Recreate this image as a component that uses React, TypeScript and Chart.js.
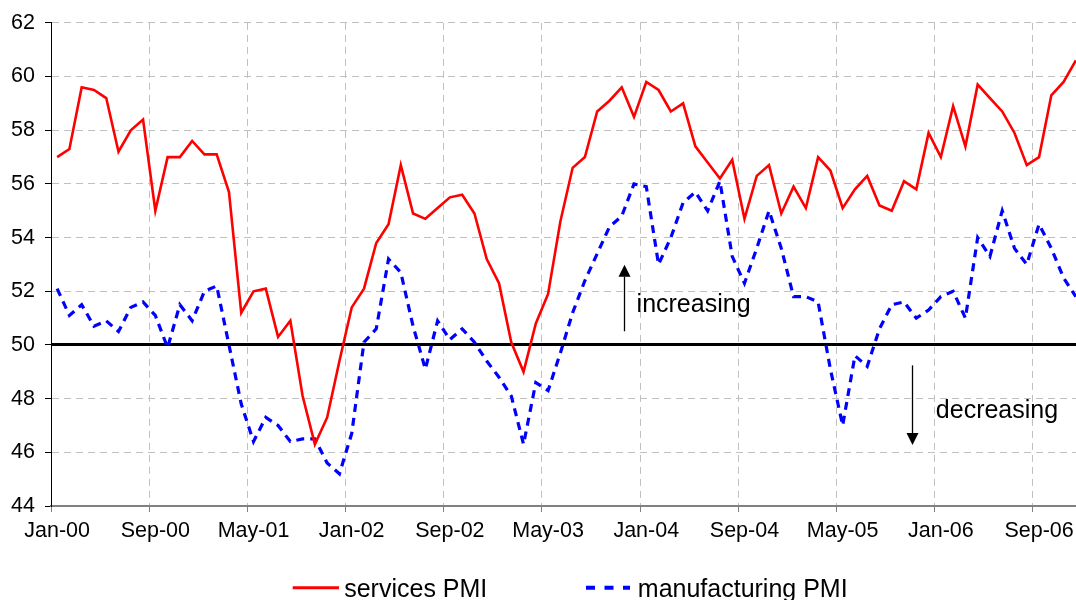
import React, { useEffect, useRef } from 'react';
import { Chart, registerables } from 'chart.js';

Chart.register(...registerables);

const MONTHS = ['Jan', 'Feb', 'Mar', 'Apr', 'May', 'Jun', 'Jul', 'Aug', 'Sep', 'Oct', 'Nov', 'Dec'];
const YEARS = ['00', '01', '02', '03', '04', '05', '06'];
const CATEGORIES = YEARS.flatMap((y) => MONTHS.map((m) => `${m}-${y}`));

const TICK_LABELS = ['Jan-00', 'Sep-00', 'May-01', 'Jan-02', 'Sep-02', 'May-03', 'Jan-04', 'Sep-04', 'May-05', 'Jan-06', 'Sep-06'];
const TICK_EVERY = 8;

const SERVICES_PMI = [
  57.0, 57.3, 59.6, 59.5, 59.2, 57.2, 58.0, 58.4, 55.0, 57.0, 57.0, 57.6,
  57.1, 57.1, 55.7, 51.2, 52.0, 52.1, 50.3, 50.9, 48.1, 46.3, 47.3, 49.4,
  51.4, 52.1, 53.8, 54.5, 56.7, 54.9, 54.7, 55.1, 55.5, 55.6, 54.9, 53.2,
  52.3, 50.1, 49.0, 50.8, 51.9, 54.6, 56.6, 57.0, 58.7, 59.1, 59.6, 58.5,
  59.8, 59.5, 58.7, 59.0, 57.4, 56.8, 56.2, 56.9, 54.7, 56.3, 56.7, 54.9,
  55.9, 55.1, 57.0, 56.5, 55.1, 55.8, 56.3, 55.2, 55.0, 56.1, 55.8, 57.9,
  57.0, 58.9, 57.4, 59.7, 59.2, 58.7, 57.9, 56.7, 57.0, 59.3, 59.8, 60.6,
];

const MANUFACTURING_PMI = [
  52.1, 51.1, 51.5, 50.7, 50.9, 50.5, 51.4, 51.6, 51.1, 49.9, 51.5, 50.9,
  52.0, 52.2, 50.0, 47.8, 46.4, 47.3, 47.0, 46.4, 46.5, 46.5, 45.6, 45.2,
  46.7, 50.1, 50.6, 53.2, 52.7, 50.7, 49.1, 50.9, 50.2, 50.6, 50.1, 49.4,
  48.8, 48.1, 46.3, 48.6, 48.3, 49.7, 51.2, 52.4, 53.4, 54.4, 54.8, 56.0,
  55.9, 53.0, 54.0, 55.3, 55.7, 55.0, 56.1, 53.3, 52.3, 53.6, 55.0, 53.6,
  51.8, 51.8, 51.6, 49.1, 47.0, 49.6, 49.2, 50.6, 51.5, 51.6, 51.0, 51.3,
  51.8, 52.0, 51.0, 54.0, 53.3, 55.0, 53.6, 53.0, 54.5, 53.6, 52.5, 51.8,
];

const Y_MIN = 44;
const Y_MAX = 62;
const Y_STEP = 2;
const NEUTRAL_LEVEL = 50;

// annotation text + arrows, in data coordinates (category index, PMI value)
const ANNOTATIONS = [
  { text: 'increasing', textX: 47.21, textY: 51.23, arrowX: 46.22, from: 50.51, to: 52.99 },
  { text: 'decreasing', textX: 71.59, textY: 47.28, arrowX: 69.67, from: 49.24, to: 46.27 },
];

const FONT = "'Liberation Sans', Arial, Helvetica, sans-serif";
const GRID = '#c0c0c0';
const RED = '#ff0000';
const BLUE = '#0000ff';

const annotationPlugin = {
  id: 'pmiAnnotations',
  afterDatasetsDraw(chart: any) {
    const { ctx, scales } = chart;
    const x = scales.x;
    const y = scales.y;
    ctx.save();
    for (const a of ANNOTATIONS) {
      const ax = Math.round(x.getPixelForValue(a.arrowX)) + 0.5;
      const y1 = y.getPixelForValue(a.from);
      const y2 = y.getPixelForValue(a.to);
      const dir = y2 < y1 ? 1 : -1;
      const head = 12;
      ctx.strokeStyle = '#000';
      ctx.fillStyle = '#000';
      ctx.lineWidth = 1.3;
      ctx.setLineDash([]);
      ctx.beginPath();
      ctx.moveTo(ax, y1);
      ctx.lineTo(ax, y2 + dir * head);
      ctx.stroke();
      ctx.beginPath();
      ctx.moveTo(ax, y2);
      ctx.lineTo(ax - 6, y2 + dir * head);
      ctx.lineTo(ax + 6, y2 + dir * head);
      ctx.closePath();
      ctx.fill();
      ctx.font = `25px ${FONT}`;
      ctx.textAlign = 'left';
      ctx.textBaseline = 'alphabetic';
      ctx.fillText(a.text, x.getPixelForValue(a.textX), y.getPixelForValue(a.textY));
    }
    ctx.restore();
  },
};

const legendPlugin = {
  id: 'pmiLegend',
  afterDraw(chart: any) {
    const { ctx } = chart;
    ctx.save();
    const lineY = 587.7;
    const baseY = 596.5;
    ctx.font = `25px ${FONT}`;
    ctx.fillStyle = '#000';
    ctx.textAlign = 'left';
    ctx.textBaseline = 'alphabetic';

    ctx.strokeStyle = RED;
    ctx.lineWidth = 3;
    ctx.setLineDash([]);
    ctx.beginPath();
    ctx.moveTo(292.7, lineY);
    ctx.lineTo(339, lineY);
    ctx.stroke();
    ctx.fillText(chart.data.datasets[0].label, 344.2, baseY);

    ctx.strokeStyle = BLUE;
    ctx.lineWidth = 4;
    ctx.setLineDash([9, 9.5]);
    ctx.beginPath();
    ctx.moveTo(586, lineY);
    ctx.lineTo(630, lineY);
    ctx.stroke();
    ctx.setLineDash([]);
    ctx.fillText(chart.data.datasets[1].label, 637.8, baseY);
    ctx.restore();
  },
};

export default function App() {
  const ref = useRef<HTMLCanvasElement>(null);

  useEffect(() => {
    const canvas = ref.current;
    if (!canvas) return;
    const chart = new Chart(canvas, {
      type: 'line',
      data: {
        labels: CATEGORIES,
        datasets: [
          {
            label: 'services PMI',
            data: SERVICES_PMI,
            borderColor: RED,
            backgroundColor: RED,
            borderWidth: 2.6,
            pointRadius: 0,
            tension: 0,
            fill: false,
          },
          {
            label: 'manufacturing PMI',
            data: MANUFACTURING_PMI,
            borderColor: BLUE,
            backgroundColor: BLUE,
            borderWidth: 3.2,
            borderDash: [8, 6],
            pointRadius: 0,
            tension: 0,
            fill: false,
          },
        ],
      },
      options: {
        responsive: false,
        animation: false,
        devicePixelRatio: 1,
        events: [],
        layout: { padding: { top: 22, right: 8, bottom: 0, left: 0 } },
        plugins: {
          legend: { display: false },
          tooltip: { enabled: false },
          title: { display: false },
        },
        scales: {
          x: {
            type: 'category',
            offset: true,
            grid: {
              offset: true,
              color: (c: any) => (c.index % TICK_EVERY === 0 && c.index > 0 ? GRID : 'rgba(0,0,0,0)'),
              tickColor: (c: any) => (c.index % TICK_EVERY === 0 ? '#808080' : 'rgba(0,0,0,0)'),
              lineWidth: 1,
              tickWidth: 1,
              tickLength: 6,
              drawTicks: true,
            },
            border: { display: true, color: '#808080', width: 2, dash: [7, 5] },
            ticks: {
              autoSkip: false,
              maxRotation: 0,
              minRotation: 0,
              color: '#000',
              padding: 6,
              font: { family: FONT, size: 21.5 },
              callback: (_v: any, i: number) => (i % TICK_EVERY === 0 ? TICK_LABELS[i / TICK_EVERY] : ''),
            },
            afterFit: (s: any) => {
              s.height = 94;
            },
          },
          y: {
            min: Y_MIN,
            max: Y_MAX,
            grid: {
              color: (c: any) =>
                c.tick && c.tick.value === NEUTRAL_LEVEL ? '#000' : c.tick && c.tick.value === Y_MIN ? 'rgba(0,0,0,0)' : GRID,
              lineWidth: (c: any) => (c.tick && c.tick.value === NEUTRAL_LEVEL ? 3 : 1),
              tickColor: '#000',
              tickWidth: 1,
              tickLength: 6,
              drawTicks: true,
            },
            border: {
              display: true,
              color: '#000',
              width: 1,
              dash: (c: any) => (c.tick && c.tick.value === NEUTRAL_LEVEL ? [] : [7, 5]),
            },
            ticks: {
              stepSize: Y_STEP,
              color: '#000',
              padding: 10,
              font: { family: FONT, size: 21.5 },
            },
            afterFit: (s: any) => {
              s.width = 51;
            },
          },
        },
      },
      plugins: [annotationPlugin, legendPlugin],
    } as any);
    return () => chart.destroy();
  }, []);

  return (
    <div
      style={{
        position: 'absolute',
        left: 0,
        top: 0,
        width: 1076,
        height: 600,
        overflow: 'hidden',
        background: '#ffffff',
      }}
    >
      <canvas ref={ref} width={1090} height={600} style={{ display: 'block', width: 1090, height: 600 }} />
    </div>
  );
}
